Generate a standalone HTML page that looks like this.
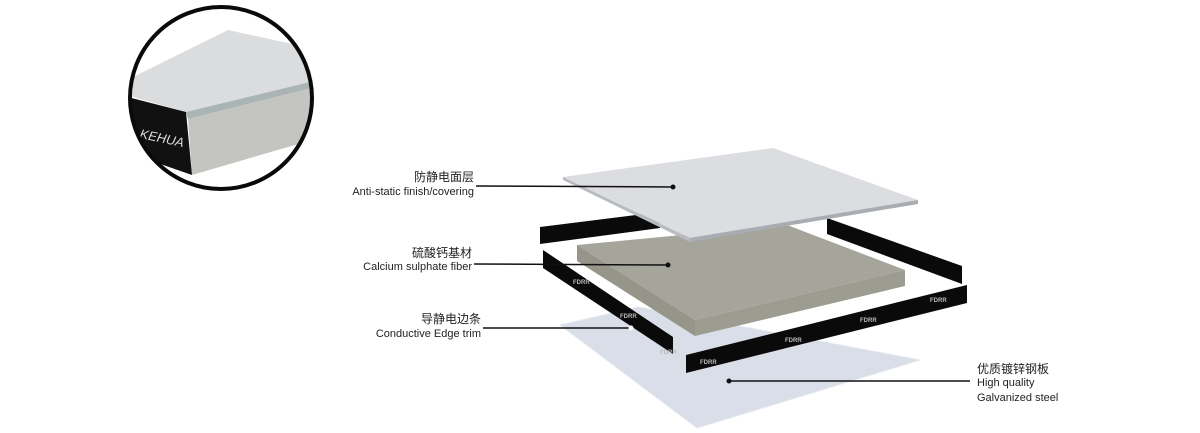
<!DOCTYPE html>
<html><head><meta charset="utf-8"><style>
html,body{margin:0;padding:0;background:#fff;}
svg{display:block;}
text{font-family:"Liberation Sans","Noto Sans CJK SC",sans-serif;fill:#222;}
</style></head><body>
<svg width="1200" height="433" viewBox="0 0 1200 433" xmlns="http://www.w3.org/2000/svg">
<defs><clipPath id="c"><circle cx="221" cy="98" r="91"/></clipPath></defs>
<!-- circle detail -->
<g clip-path="url(#c)">
<rect x="120" y="0" width="210" height="200" fill="#fff"/>
<polygon points="133,77 228,30 320,50 310,82 186,112 133,97" fill="#dadcde"/>
<polygon points="186,112 310,82 312,88 188,119" fill="#aab4b4"/>
<polygon points="188,119 312,88 312,140 192,175" fill="#c4c4c0"/>
<polygon points="120,95 186,112 192,175 120,150" fill="#111"/>
<text x="140" y="140" font-size="13" font-style="italic" fill="#ddd" style="fill:#ddd" transform="rotate(12 150 135)">KEHUA</text>
</g>
<circle cx="221" cy="98" r="91" fill="none" stroke="#0a0a0a" stroke-width="4"/>

<!-- galvanized steel plate -->
<polygon points="560,325 638,307 920,360 697,428" fill="#d9dee8" stroke="#e4e7ee" stroke-width="1"/>
<!-- back-left strip -->
<polygon points="540,227 660,212 660,228 540,244" fill="#0a0a0a"/>
<!-- right strip -->
<polygon points="827,218 962,266 962,284 827,234" fill="#0a0a0a"/>
<!-- gray substrate -->
<polygon points="577,245 787,225 905,270 695,320" fill="#a5a59c"/>
<polygon points="577,245 695,320 695,336 577,261" fill="#959589"/>
<polygon points="695,320 905,270 905,286 695,336" fill="#9c9c91"/>
<!-- left strip -->
<polygon points="543,250 673,337 673,354 543,268" fill="#0a0a0a"/>
<!-- front strip -->
<polygon points="686,355 967,285 967,303 686,373" fill="#0a0a0a"/>
<g font-size="6" style="fill:#ccc" font-weight="bold">
<text x="700" y="364" style="fill:#bbb">FDRR</text>
<text x="785" y="342" style="fill:#bbb">FDRR</text>
<text x="860" y="322" style="fill:#bbb">FDRR</text>
<text x="930" y="302" style="fill:#bbb">FDRR</text>
<text x="573" y="284" style="fill:#bbb">FDRR</text>
<text x="620" y="318" style="fill:#bbb">FDRR</text>
<text x="660" y="354" style="fill:#bbb">FDRR</text>
</g>
<!-- top panel -->
<polygon points="563,177 773,148 918,200 690,238" fill="#dcdde0"/>
<polygon points="690,238 918,200 918,204 690,242" fill="#a9acb2"/>
<polygon points="563,177 690,238 690,242 563,180" fill="#b8bbc0"/>

<!-- leader lines -->
<g stroke="#111" stroke-width="1.5">
<line x1="476" y1="186" x2="673" y2="187"/>
<line x1="474" y1="264" x2="668" y2="265"/>
<line x1="483" y1="328" x2="630" y2="328"/>
<line x1="729" y1="381" x2="970" y2="381"/>
</g>
<circle cx="673" cy="187" r="2.5" fill="#111"/>
<circle cx="668" cy="265" r="2.5" fill="#111"/>
<circle cx="631" cy="328" r="2.5" fill="#fff"/>
<circle cx="729" cy="381" r="2.5" fill="#111"/>

<!-- labels -->
<g font-size="11">
<text x="474" y="181" text-anchor="end" font-size="12">防静电面层</text>
<text x="474" y="195" text-anchor="end">Anti-static finish/covering</text>
<text x="472" y="257" text-anchor="end" font-size="12">硫酸钙基材</text>
<text x="472" y="270" text-anchor="end">Calcium sulphate fiber</text>
<text x="481" y="323" text-anchor="end" font-size="12">导静电边条</text>
<text x="481" y="337" text-anchor="end">Conductive Edge trim</text>
<text x="977" y="373" font-size="12">优质镀锌钢板</text>
<text x="977" y="386">High quality</text>
<text x="977" y="401">Galvanized steel</text>
</g>
</svg>
</body></html>
